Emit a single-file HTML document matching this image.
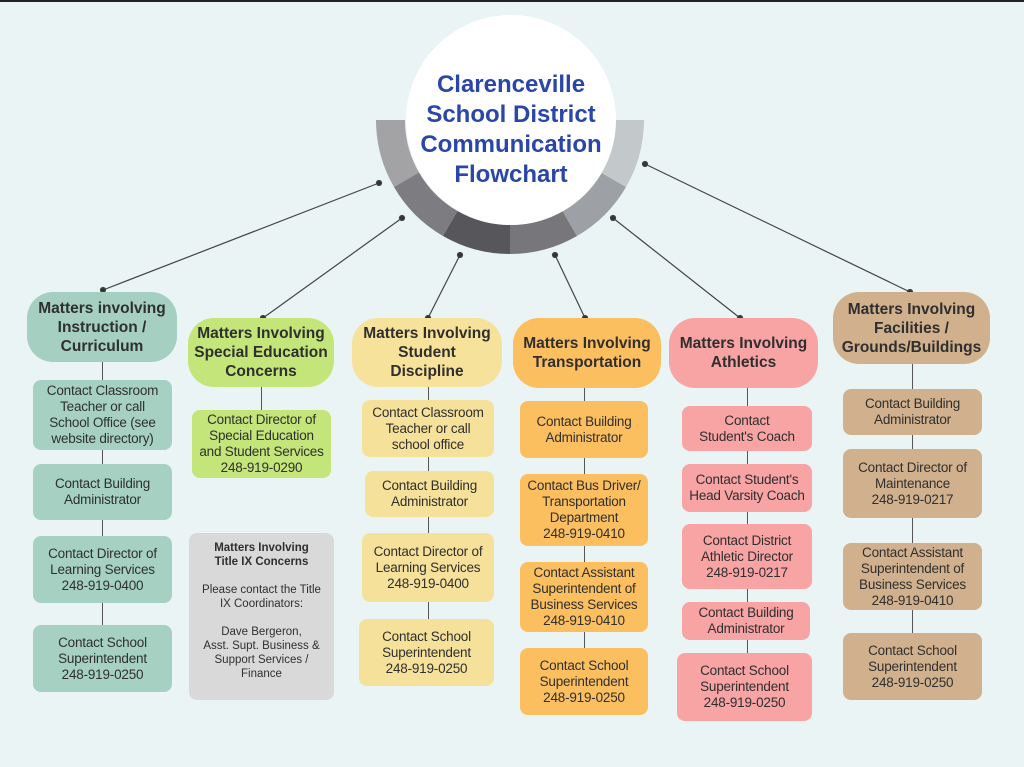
<!DOCTYPE html>
<html><head><meta charset="utf-8"><style>
body{margin:0;width:1024px;height:767px;background:#eaf4f5;position:relative;overflow:hidden;font-family:"Liberation Sans",sans-serif;color:#2f2f2f}
.b{position:absolute;display:flex;align-items:center;justify-content:center;text-align:center;box-sizing:border-box;font-size:13.5px;line-height:16px;border-radius:8px;white-space:nowrap;letter-spacing:-0.2px}
.h{font-weight:bold;font-size:15.5px;line-height:19px;border-radius:26px;letter-spacing:0}
.v{position:absolute;width:1px;background:#555}
</style></head><body>
<div style="position:absolute;left:0;top:0;width:1024px;height:2px;background:#222"></div>
<svg width="1024" height="767" style="position:absolute;left:0;top:0">
<g transform="translate(510,120)">
<path d="M-134,0 A134,134 0 0 0 -116,67 L-91,52.5 A105,105 0 0 1 -105,0Z" fill="#a3a3a6"/>
<path d="M-116,67 A134,134 0 0 0 -67,116 L-52.5,91 A105,105 0 0 1 -91,52.5Z" fill="#7d7c80"/>
<path d="M-67,116 A134,134 0 0 0 0,134 L0,105 A105,105 0 0 1 -52.5,91Z" fill="#57565b"/>
<path d="M0,134 A134,134 0 0 0 67,116 L52.5,91 A105,105 0 0 1 0,105Z" fill="#77777b"/>
<path d="M67,116 A134,134 0 0 0 116,67 L91,52.5 A105,105 0 0 1 52.5,91Z" fill="#9da1a5"/>
<path d="M116,67 A134,134 0 0 0 134,0 L105,0 A105,105 0 0 1 91,52.5Z" fill="#c3c8cb"/>
<circle cx="1" cy="0" r="105" fill="#fff"/>
</g>
<g stroke="#444" stroke-width="1.2" fill="#333">
<line x1="379" y1="183" x2="103" y2="290"/><circle cx="379" cy="183" r="2.5"/><circle cx="103" cy="290" r="2.5"/>
<line x1="402" y1="218" x2="263" y2="318"/><circle cx="402" cy="218" r="2.5"/><circle cx="263" cy="318" r="2.5"/>
<line x1="460" y1="255" x2="428" y2="318"/><circle cx="460" cy="255" r="2.5"/><circle cx="428" cy="318" r="2.5"/>
<line x1="555" y1="255" x2="585" y2="318"/><circle cx="555" cy="255" r="2.5"/><circle cx="585" cy="318" r="2.5"/>
<line x1="613" y1="218" x2="740" y2="318"/><circle cx="613" cy="218" r="2.5"/><circle cx="740" cy="318" r="2.5"/>
<line x1="645" y1="164" x2="910" y2="292"/><circle cx="645" cy="164" r="2.5"/><circle cx="910" cy="292" r="2.5"/>
</g>
</svg>
<div style="position:absolute;left:400px;top:70px;width:222px;text-align:center;color:#2a46a8;font-weight:bold;font-size:24px;line-height:30px">Clarenceville School District Communication Flowchart</div>

<div class="v" style="left:102px;top:360px;height:330px"></div>
<div class="v" style="left:261px;top:385px;height:30px"></div>
<div class="v" style="left:428px;top:385px;height:240px"></div>
<div class="v" style="left:584px;top:386px;height:270px"></div>
<div class="v" style="left:747px;top:386px;height:270px"></div>
<div class="v" style="left:912px;top:362px;height:280px"></div>

<div class="b h" style="left:27px;top:292px;width:150px;height:70px;background:#a5cfc0">Matters involving<br>Instruction /<br>Curriculum</div>
<div class="b" style="left:33px;top:380px;width:139px;height:70px;background:#a6d1c2">Contact Classroom<br>Teacher or call<br>School Office (see<br>website directory)</div>
<div class="b" style="left:33px;top:464px;width:139px;height:56px;background:#a6d1c2">Contact Building<br>Administrator</div>
<div class="b" style="left:33px;top:536px;width:139px;height:67px;background:#a6d1c2">Contact Director of<br>Learning Services<br>248-919-0400</div>
<div class="b" style="left:33px;top:625px;width:139px;height:67px;background:#a6d1c2">Contact School<br>Superintendent<br>248-919-0250</div>

<div class="b h" style="left:188px;top:318px;width:146px;height:69px;background:#c3e57a">Matters Involving<br>Special Education<br>Concerns</div>
<div class="b" style="left:192px;top:410px;width:139px;height:68px;background:#c3e57a">Contact Director of<br>Special Education<br>and Student Services<br>248-919-0290</div>
<div class="b" style="left:189px;top:533px;width:145px;height:167px;background:#d9d9d9;font-size:11.5px;line-height:14px;align-items:flex-start;padding-top:8px;letter-spacing:0"><div><b>Matters Involving<br>Title IX Concerns</b><br><br>Please contact the Title<br>IX Coordinators:<br><br>Dave Bergeron,<br>Asst. Supt. Business &amp;<br>Support Services /<br>Finance</div></div>

<div class="b h" style="left:352px;top:318px;width:150px;height:69px;background:#f6e29b">Matters Involving<br>Student<br>Discipline</div>
<div class="b" style="left:362px;top:400px;width:132px;height:57px;background:#f5e19a">Contact Classroom<br>Teacher or call<br>school office</div>
<div class="b" style="left:365px;top:471px;width:129px;height:46px;background:#f5e19a">Contact Building<br>Administrator</div>
<div class="b" style="left:362px;top:533px;width:132px;height:69px;background:#f5e19a">Contact Director of<br>Learning Services<br>248-919-0400</div>
<div class="b" style="left:359px;top:619px;width:135px;height:67px;background:#f5e19a">Contact School<br>Superintendent<br>248-919-0250</div>

<div class="b h" style="left:513px;top:318px;width:148px;height:70px;background:#fcbf5f">Matters Involving<br>Transportation</div>
<div class="b" style="left:520px;top:401px;width:128px;height:57px;background:#fcbf5f">Contact Building<br>Administrator</div>
<div class="b" style="left:520px;top:474px;width:128px;height:72px;background:#fcbf5f">Contact Bus Driver/<br>Transportation<br>Department<br>248-919-0410</div>
<div class="b" style="left:520px;top:562px;width:128px;height:70px;background:#fcbf5f">Contact Assistant<br>Superintendent of<br>Business Services<br>248-919-0410</div>
<div class="b" style="left:520px;top:648px;width:128px;height:67px;background:#fcbf5f">Contact School<br>Superintendent<br>248-919-0250</div>

<div class="b h" style="left:669px;top:318px;width:149px;height:70px;background:#f8a3a4">Matters Involving<br>Athletics</div>
<div class="b" style="left:682px;top:406px;width:130px;height:45px;background:#f8a3a4">Contact<br>Student's Coach</div>
<div class="b" style="left:682px;top:464px;width:130px;height:48px;background:#f8a3a4">Contact Student's<br>Head Varsity Coach</div>
<div class="b" style="left:682px;top:524px;width:130px;height:65px;background:#f8a3a4">Contact District<br>Athletic Director<br>248-919-0217</div>
<div class="b" style="left:682px;top:602px;width:128px;height:38px;background:#f8a3a4">Contact Building<br>Administrator</div>
<div class="b" style="left:677px;top:653px;width:135px;height:68px;background:#f8a3a4">Contact School<br>Superintendent<br>248-919-0250</div>

<div class="b h" style="left:833px;top:292px;width:157px;height:72px;background:#d1b08d">Matters Involving<br>Facilities /<br>Grounds/Buildings</div>
<div class="b" style="left:843px;top:389px;width:139px;height:46px;background:#d1b08d">Contact Building<br>Administrator</div>
<div class="b" style="left:843px;top:449px;width:139px;height:69px;background:#d1b08d">Contact Director of<br>Maintenance<br>248-919-0217</div>
<div class="b" style="left:843px;top:543px;width:139px;height:67px;background:#d1b08d">Contact Assistant<br>Superintendent of<br>Business Services<br>248-919-0410</div>
<div class="b" style="left:843px;top:633px;width:139px;height:67px;background:#d1b08d">Contact School<br>Superintendent<br>248-919-0250</div>
</body></html>
